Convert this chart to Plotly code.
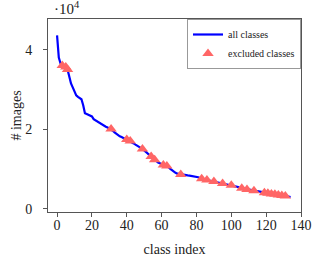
import plotly.graph_objects as go

# number of images per class (sorted), class index 0..134
class_index = list(range(135))
num_images = [
    43600, 38000, 36500, 36000, 35800, 35600, 35000, 33000, 31500, 30500,
    29500, 28500, 28100, 27800, 27500, 26000, 24000, 23800, 23600, 23400,
    23200, 22500, 22200, 21900, 21600, 21400, 21200, 20900, 20600, 20400,
    20200, 20000, 19600, 19200, 18800, 18400, 18200, 18000, 17800, 17600,
    17400, 17200, 17000, 16700, 16400, 16100, 15900, 15600, 15300, 15000,
    14600, 14200, 13800, 13400, 13100, 12700, 12300, 11900, 11600, 11400,
    11200, 11000, 10900, 10700, 10400, 10000, 9600, 9300, 9000, 8800,
    8700, 8600, 8500, 8450, 8400, 8350, 8300, 8250, 8200, 8150,
    8100, 7900, 7700, 7500, 7400, 7300, 7200, 7100, 7000, 6900,
    6800, 6700, 6600, 6500, 6400, 6300, 6200, 6150, 6100, 6000,
    5900, 5800, 5700, 5600, 5400, 5200, 5100, 5000, 4900, 4800,
    4750, 4700, 4600, 4500, 4450, 4400, 4300, 4200, 4100, 4000,
    3900, 3850, 3800, 3700, 3650, 3600, 3500, 3450, 3400, 3300,
    3250, 3200, 3100, 3000, 2900,
]

excluded_index = [3, 5, 6, 31, 40, 42, 49, 54, 56, 61, 63, 71, 83, 86, 90,
                  95, 100, 106, 109, 113, 119, 121, 123, 125, 127, 129, 131]
excluded_images = [num_images[i] for i in excluded_index]

x_ticks = [0, 20, 40, 60, 80, 100, 120, 140]
y_tick_vals = [0, 20000, 40000]
y_tick_text = ["0", "2", "4"]

FONT = "serif"

fig = go.Figure()
fig.add_trace(go.Scatter(
    x=class_index, y=num_images, mode="lines", name="all classes",
    line=dict(color="#0000ff", width=2.2),
))
fig.add_trace(go.Scatter(
    x=excluded_index, y=excluded_images, mode="markers", name="excluded classes",
    marker=dict(symbol="triangle-up", size=10, color="#ff6666", line=dict(width=0)),
))

axis_common = dict(
    showgrid=False, zeroline=False, showline=True, mirror=True,
    linecolor="#555555", linewidth=1, ticks="outside", ticklen=4,
    tickcolor="#555555", tickfont=dict(family=FONT, size=14, color="#222"),
    automargin=False, ticklabeloverflow="allow",
)

fig.update_layout(
    width=317, height=260,
    margin=dict(l=48, r=16, t=19, b=48),
    paper_bgcolor="white", plot_bgcolor="white",
    font=dict(family=FONT, color="#222"),
    showlegend=True,
    legend=dict(
        x=1, y=1, xanchor="right", yanchor="top",
        bordercolor="#999999", borderwidth=1, bgcolor="white",
        font=dict(family=FONT, size=10, color="#222"),
        tracegroupgap=0, itemwidth=30,
    ),
    xaxis=dict(
        range=[-5.2, 140], tickvals=x_ticks, ticklabelstandoff=-4,
        title=dict(text="class index", font=dict(family=FONT, size=14), standoff=12),
        **axis_common,
    ),
    yaxis=dict(
        range=[-850, 47700], tickvals=y_tick_vals, ticktext=y_tick_text,
        ticklabelstandoff=8,
        title=dict(text="# images", font=dict(family=FONT, size=14), standoff=0),
        **axis_common,
    ),
    annotations=[dict(
        text="·10<sup>4</sup>", xref="paper", yref="paper",
        x=0.015, y=1.0, xanchor="left", yanchor="bottom", showarrow=False,
        font=dict(family=FONT, size=15, color="#222"),
    )],
)

fig.write_html("out.html", config={"displayModeBar": False},
               post_script="document.body.style.margin='0';")
